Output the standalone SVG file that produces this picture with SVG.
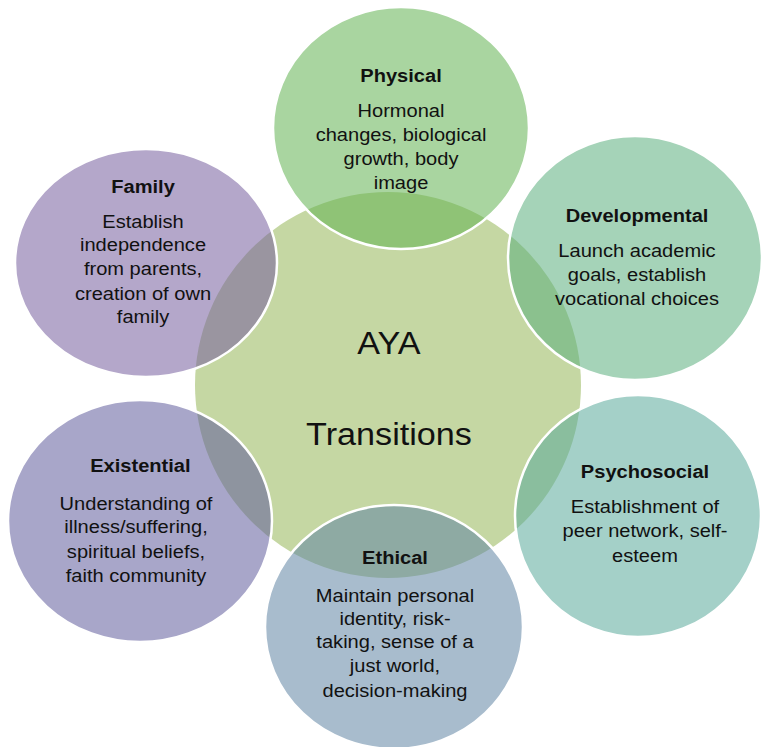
<svg xmlns="http://www.w3.org/2000/svg" width="762" height="747" viewBox="0 0 762 747">
<style>
  .bg { fill: #ffffff; }
  .core { fill: #c5d7a3; }
  .bub { fill-opacity: 0.55; stroke: #ffffff; stroke-width: 2.5; }
  text { font-family: "Liberation Sans", Arial, sans-serif; fill: #111111; text-anchor: middle; }
  .ttl { font-size: 18.5px; font-weight: bold; }
  .txt { font-size: 18.5px; }
  .big { font-size: 31.5px; }
</style>
<rect class="bg" x="0" y="0" width="762" height="747"/>

<g id="center">
  <circle class="core" cx="388" cy="385" r="193"/>
  <g transform="translate(389 0) scale(1.085 1)">
    <text class="big" x="0" y="354">AYA</text>
    <text class="big" x="0" y="445">Transitions</text>
  </g>
</g>

<g id="connectors"></g>

<g id="physical">
  <ellipse class="bub" cx="401" cy="128" rx="128" ry="121" fill="#63b352"/>
  <g transform="translate(401 0) scale(1.085 1)">
    <text class="ttl" x="0" y="82">Physical</text>
    <text class="txt" x="0" y="117">Hormonal</text>
    <text class="txt" x="0" y="141">changes, biological</text>
    <text class="txt" x="0" y="165">growth, body</text>
    <text class="txt" x="0" y="189">image</text>
  </g>
</g>

<g id="developmental">
  <ellipse class="bub" cx="635" cy="258" rx="127" ry="122" fill="#5baf7e"/>
  <g transform="translate(637 0) scale(1.085 1)">
    <text class="ttl" x="0" y="222">Developmental</text>
    <text class="txt" x="0" y="257">Launch academic</text>
    <text class="txt" x="0" y="281">goals, establish</text>
    <text class="txt" x="0" y="305">vocational choices</text>
  </g>
</g>

<g id="psychosocial">
  <ellipse class="bub" cx="638" cy="516" rx="123" ry="121" fill="#5aaa9b"/>
  <g transform="translate(645 0) scale(1.085 1)">
    <text class="ttl" x="0" y="478">Psychosocial</text>
    <text class="txt" x="0" y="513">Establishment of</text>
    <text class="txt" x="0" y="537">peer network, self-</text>
    <text class="txt" x="0" y="562">esteem</text>
  </g>
</g>

<g id="ethical">
  <ellipse class="bub" cx="394" cy="627" rx="129" ry="122" fill="#6185a4"/>
  <g transform="translate(395 0) scale(1.085 1)">
    <text class="ttl" x="0" y="564">Ethical</text>
    <text class="txt" x="0" y="602">Maintain personal</text>
    <text class="txt" x="0" y="625">identity, risk-</text>
    <text class="txt" x="0" y="648">taking, sense of a</text>
    <text class="txt" x="0" y="672">just world,</text>
    <text class="txt" x="0" y="697">decision-making</text>
  </g>
</g>

<g id="existential">
  <ellipse class="bub" cx="140" cy="521" rx="132" ry="121" fill="#615d9d"/>
  <g transform="translate(136 0) scale(1.085 1)">
    <text class="ttl" x="4" y="472">Existential</text>
    <text class="txt" x="0" y="510">Understanding of</text>
    <text class="txt" x="0" y="533">illness/suffering,</text>
    <text class="txt" x="0" y="558">spiritual beliefs,</text>
    <text class="txt" x="0" y="582">faith community</text>
  </g>
</g>

<g id="family">
  <ellipse class="bub" cx="146" cy="263" rx="131" ry="114" fill="#775f9f"/>
  <g transform="translate(143 0) scale(1.085 1)">
    <text class="ttl" x="0" y="193">Family</text>
    <text class="txt" x="0" y="228">Establish</text>
    <text class="txt" x="0" y="251">independence</text>
    <text class="txt" x="0" y="275">from parents,</text>
    <text class="txt" x="0" y="300">creation of own</text>
    <text class="txt" x="0" y="323">family</text>
  </g>
</g>
</svg>
